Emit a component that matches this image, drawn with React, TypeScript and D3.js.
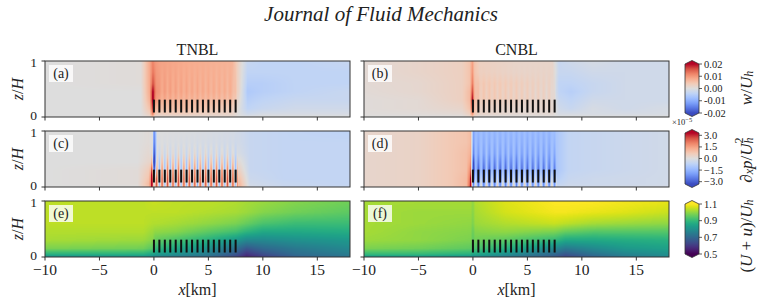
import { useMemo } from 'react';
import * as d3 from 'd3';

// x axis in km, z normalised by boundary-layer height
const xTicks = [-10, -5, 0, 5, 10, 15];
const turbineX = [0, 0.5, 1, 1.5, 2, 2.5, 3, 3.5, 4, 4.5, 5, 5.5, 6, 6.5, 7, 7.5];
const rotorZ = [0.08, 0.31];
const zNodes = [0, 0.05, 0.15, 0.3, 0.45, 0.6, 0.8, 1];

// w/U_h  (one column per x node, values bottom -> top at zNodes)
const wTnblX = [-10, -1.2, -0.4, -0.1, 0.1, 0.5, 3, 7.2, 7.8, 8.6, 10, 13, 18];
const wTnblV = [
  [0, 0, 0, 0, 0, 0, 0, 0],
  [0, 0, 0, 0, 0, 0.0005, 0.0005, 0.0005],
  [0.001, 0.003, 0.005, 0.007, 0.008, 0.008, 0.008, 0.008],
  [0.004, 0.012, 0.018, 0.022, 0.021, 0.016, 0.013, 0.012],
  [0.001, 0.004, 0.008, 0.012, 0.013, 0.012, 0.011, 0.01],
  [0.001, 0.003, 0.006, 0.008, 0.009, 0.009, 0.009, 0.009],
  [0.001, 0.003, 0.006, 0.007, 0.008, 0.008, 0.008, 0.008],
  [0.001, 0.002, 0.004, 0.006, 0.007, 0.007, 0.007, 0.007],
  [0, 0, 0, 0.001, 0.002, 0.002, 0.002, 0.002],
  [0, -0.002, -0.004, -0.005, -0.006, -0.005, -0.004, -0.003],
  [0, -0.001, -0.003, -0.004, -0.005, -0.005, -0.004, -0.004],
  [0, -0.001, -0.002, -0.003, -0.004, -0.004, -0.004, -0.004],
  [0, -0.001, -0.002, -0.003, -0.003, -0.004, -0.004, -0.003],
];
const wTnblDisk = [0, 0, 0.001, 0.001, 0.001, 0.0008, 0.0004, 0];
const wTnblGap = [0, 0, -0.001, -0.001, -0.001, -0.0008, -0.0004, 0];

const wCnblX = [-10, -5, -1, -0.3, -0.05, 0.15, 0.6, 4, 7.3, 7.9, 9, 11, 14, 18];
const wCnblV = [
  [0, 0.0003, 0.0005, 0.0005, 0.0008, 0.001, 0.001, 0.001],
  [0, 0.0005, 0.001, 0.001, 0.0015, 0.0015, 0.002, 0.002],
  [0, 0.001, 0.002, 0.003, 0.003, 0.003, 0.003, 0.003],
  [0.001, 0.003, 0.005, 0.006, 0.006, 0.005, 0.005, 0.005],
  [0.003, 0.01, 0.016, 0.02, 0.016, 0.012, 0.01, 0.009],
  [0.001, 0.004, 0.006, 0.007, 0.007, 0.006, 0.005, 0.005],
  [0, 0.002, 0.003, 0.004, 0.004, 0.004, 0.003, 0.003],
  [0, 0.001, 0.002, 0.003, 0.003, 0.003, 0.002, 0.002],
  [0, 0.001, 0.002, 0.002, 0.002, 0.002, 0.002, 0.002],
  [0, -0.001, -0.002, -0.003, -0.004, -0.004, -0.003, -0.003],
  [0, -0.001, -0.003, -0.004, -0.005, -0.004, -0.003, -0.002],
  [0, -0.001, -0.001, -0.002, -0.003, -0.003, -0.002, -0.001],
  [0, -0.001, -0.002, -0.002, -0.002, -0.002, -0.002, -0.002],
  [0, -0.001, -0.001, -0.002, -0.002, -0.002, -0.002, -0.002],
];
const wCnblDisk = [0, 0, 0.001, 0.001, 0.001, 0.0008, 0.0003, 0];
const wCnblGap = [0, 0, -0.001, -0.001, -0.001, -0.0005, 0, 0];

// d_x p / U_h^2, in units of 1e-5
const pTnblX = [-10, -1.5, -0.5, -0.12, 0, 0.12, 0.3, 4, 7.3, 7.9, 8.8, 12, 18];
const pTnblV = [
  [0, 0, 0, 0, 0, 0, 0, 0],
  [0, 0.1, 0.1, 0.1, 0, 0, 0, 0],
  [0.8, 1.0, 0.8, 0.6, 0.3, 0.2, 0.1, 0.1],
  [2.5, 2.8, 2.5, 1.5, 0.3, 0, 0, 0],
  [1.5, 1.5, 1.0, -2.0, -3.3, -3.0, -2.6, -2.4],
  [1.0, 1.0, 0.5, -1.5, -2.5, -2.2, -1.8, -1.6],
  [0.5, 0.5, 0.4, 0.2, 0.1, 0, 0, 0],
  [0.5, 0.5, 0.4, 0.2, 0.1, 0, -0.1, -0.1],
  [0.5, 0.5, 0.4, 0.2, 0, -0.1, -0.2, -0.2],
  [1.0, 1.0, 0.8, 0.4, 0.1, -0.2, -0.3, -0.3],
  [-0.2, -0.3, -0.4, -0.5, -0.5, -0.5, -0.5, -0.5],
  [-0.5, -0.5, -0.6, -0.6, -0.6, -0.6, -0.6, -0.6],
  [-0.5, -0.6, -0.6, -0.6, -0.6, -0.6, -0.6, -0.7],
];
const pTnblDisk = [-1.5, -2, -2, -1.8, -1.2, -0.5, -0.1, 0];
const pTnblGap = [1.8, 2.2, 2.2, 1.8, 1.0, 0.3, 0, 0];

const pCnblX = [-10, -5, -2, -0.6, -0.2, 0.05, 0.3, 4, 7.2, 7.8, 8.8, 11, 18];
const pCnblV = [
  [0.3, 0.3, 0.3, 0.3, 0.3, 0.3, 0.3, 0.3],
  [0.4, 0.4, 0.4, 0.4, 0.4, 0.4, 0.4, 0.4],
  [0.7, 0.7, 0.7, 0.7, 0.7, 0.7, 0.7, 0.7],
  [1.0, 1.0, 1.0, 0.9, 0.9, 0.9, 0.8, 0.8],
  [3.0, 2.8, 2.5, 2.0, 1.5, 1.2, 1.0, 1.0],
  [-1.0, -1.5, -2.5, -2.8, -2.5, -2.0, -1.8, -1.8],
  [-1.0, -1.2, -1.5, -1.6, -1.5, -1.4, -1.4, -1.4],
  [-0.8, -1.0, -1.3, -1.5, -1.5, -1.4, -1.4, -1.4],
  [-0.8, -1.0, -1.2, -1.4, -1.4, -1.4, -1.4, -1.4],
  [-0.4, -0.6, -0.8, -1.0, -1.0, -1.0, -1.0, -1.0],
  [-0.3, -0.4, -0.5, -0.6, -0.6, -0.6, -0.6, -0.6],
  [-0.3, -0.4, -0.4, -0.5, -0.5, -0.5, -0.5, -0.5],
  [-0.2, -0.3, -0.3, -0.3, -0.3, -0.3, -0.3, -0.3],
];
const pCnblDisk = [-1.5, -1.5, -1.5, -1.5, -1.0, -0.6, -0.3, -0.1];
const pCnblGap = [1.5, 1.5, 1.2, 0.6, 0.4, 0.3, 0.2, 0.1];

// (U + u)/U_h
const uTnblX = [-10, -1, -0.1, 0.1, 2, 5, 7.5, 8.5, 10, 13, 18];
const uTnblV = [
  [0.8, 0.88, 0.98, 1.02, 1.03, 1.04, 1.04, 1.04],
  [0.8, 0.88, 0.97, 1.01, 1.03, 1.04, 1.04, 1.04],
  [0.78, 0.85, 0.94, 0.99, 1.01, 1.03, 1.04, 1.05],
  [0.76, 0.83, 0.9, 0.96, 1.0, 1.03, 1.04, 1.05],
  [0.74, 0.8, 0.86, 0.93, 0.99, 1.02, 1.04, 1.04],
  [0.7, 0.75, 0.8, 0.88, 0.95, 1.0, 1.03, 1.04],
  [0.62, 0.66, 0.72, 0.82, 0.92, 0.98, 1.02, 1.03],
  [0.55, 0.59, 0.66, 0.78, 0.89, 0.96, 1.01, 1.02],
  [0.6, 0.64, 0.7, 0.78, 0.86, 0.93, 0.99, 1.01],
  [0.68, 0.71, 0.74, 0.8, 0.86, 0.91, 0.97, 0.99],
  [0.73, 0.75, 0.78, 0.82, 0.87, 0.91, 0.95, 0.97],
];

const uCnblX = [-10, -5, -0.2, 0, 0.2, 3, 7.5, 8.5, 11, 14, 18];
const uCnblV = [
  [0.82, 0.9, 0.98, 1.01, 1.02, 1.02, 1.02, 1.02],
  [0.82, 0.9, 0.97, 1.0, 1.0, 1.01, 1.01, 1.02],
  [0.8, 0.88, 0.95, 0.98, 0.99, 1.0, 1.01, 1.02],
  [0.78, 0.85, 0.92, 0.95, 0.96, 0.98, 0.99, 1.0],
  [0.78, 0.86, 0.93, 0.97, 0.99, 1.01, 1.02, 1.03],
  [0.74, 0.8, 0.88, 0.95, 1.0, 1.03, 1.06, 1.07],
  [0.66, 0.7, 0.78, 0.9, 0.98, 1.05, 1.09, 1.1],
  [0.62, 0.66, 0.74, 0.86, 0.96, 1.04, 1.09, 1.1],
  [0.68, 0.72, 0.78, 0.86, 0.94, 1.02, 1.08, 1.1],
  [0.74, 0.77, 0.82, 0.87, 0.94, 1.01, 1.07, 1.09],
  [0.78, 0.8, 0.84, 0.88, 0.94, 1.0, 1.05, 1.08],
];

const wTicks = [0.02, 0.01, 0, -0.01, -0.02];
const wTickLabels = ['0.02', '0.01', '0.00', '-0.01', '-0.02'];
const pTicks = [3, 1.5, 0, -1.5, -3];
const pTickLabels = ['3.0', '1.5', '0.0', '\u22121.5', '\u22123.0'];
const uTicks = [1.1, 0.9, 0.7, 0.5];
const uTickLabels = ['1.1', '0.9', '0.7', '0.5'];

const coolwarmStops = ['#3b4cc0', '#5977e3', '#7b9ff9', '#9ebeff', '#c0d4f5', '#dddddd', '#f2cbb7', '#f7ac8e', '#ee8468', '#d65244', '#b40426'];
const coolwarm = d3.piecewise(d3.interpolateRgb, coolwarmStops);

const FONT = '"Liberation Serif", "DejaVu Serif", serif';
const INK = '#333';

const colX = [45, 364];
const rowY = [61, 131, 201];
const PW = 305;
const PH = 56;

const x = d3.scaleLinear().domain([-10, 18]).range([0, PW]);
const z = d3.scaleLinear().domain([0, 1]).range([PH, 0]);

function interpGrid(xn, cols, xv, zv) {
  const i = Math.max(0, Math.min(xn.length - 2, d3.bisectRight(xn, xv) - 1));
  const j = Math.max(0, Math.min(zNodes.length - 2, d3.bisectRight(zNodes, zv) - 1));
  const tx = Math.max(0, Math.min(1, (xv - xn[i]) / (xn[i + 1] - xn[i])));
  const tz = Math.max(0, Math.min(1, (zv - zNodes[j]) / (zNodes[j + 1] - zNodes[j])));
  const a = cols[i][j] * (1 - tz) + cols[i][j + 1] * tz;
  const b = cols[i + 1][j] * (1 - tz) + cols[i + 1][j + 1] * tz;
  return a * (1 - tx) + b * tx;
}

// turbine-row stripes: disk profile at each turbine, gap profile halfway between
function stripeGrid(disk, gap) {
  const half = (turbineX[1] - turbineX[0]) / 2;
  const xs = [];
  const cols = [];
  turbineX.forEach(t => {
    xs.push(t - half, t);
    cols.push(gap, disk);
  });
  xs.push(turbineX[turbineX.length - 1] + half);
  cols.push(gap);
  return { xs, cols };
}

function renderField(field, color) {
  const canvas = document.createElement('canvas');
  canvas.width = PW;
  canvas.height = PH;
  const ctx = canvas.getContext('2d');
  const img = ctx.createImageData(PW, PH);
  const stripes = field.disk ? stripeGrid(field.disk, field.gap) : null;
  for (let py = 0; py < PH; py++) {
    const zv = z.invert(py + 0.5);
    for (let px = 0; px < PW; px++) {
      const xv = x.invert(px + 0.5);
      let v = interpGrid(field.x, field.v, xv, zv);
      if (stripes && xv >= stripes.xs[0] && xv <= stripes.xs[stripes.xs.length - 1]) {
        v += interpGrid(stripes.xs, stripes.cols, xv, zv);
      }
      const c = d3.rgb(color(v));
      const k = (py * PW + px) * 4;
      img.data[k] = c.r;
      img.data[k + 1] = c.g;
      img.data[k + 2] = c.b;
      img.data[k + 3] = 255;
    }
  }
  ctx.putImageData(img, 0, 0);
  return canvas.toDataURL();
}

const wColor = d3.scaleSequential(coolwarm).domain([-0.02, 0.02]).clamp(true);
const pColor = d3.scaleSequential(coolwarm).domain([-3.3, 3.3]).clamp(true);
const uColor = d3.scaleSequential(d3.interpolateViridis).domain([0.5, 1.1]).clamp(true);

const panels = [
  { key: 'a', col: 0, row: 0, field: { x: wTnblX, v: wTnblV, disk: wTnblDisk, gap: wTnblGap }, color: wColor },
  { key: 'b', col: 1, row: 0, field: { x: wCnblX, v: wCnblV, disk: wCnblDisk, gap: wCnblGap }, color: wColor },
  { key: 'c', col: 0, row: 1, field: { x: pTnblX, v: pTnblV, disk: pTnblDisk, gap: pTnblGap }, color: pColor },
  { key: 'd', col: 1, row: 1, field: { x: pCnblX, v: pCnblV, disk: pCnblDisk, gap: pCnblGap }, color: pColor },
  { key: 'e', col: 0, row: 2, field: { x: uTnblX, v: uTnblV }, color: uColor },
  { key: 'f', col: 1, row: 2, field: { x: uCnblX, v: uCnblV }, color: uColor },
];

function Panel({ p, url }) {
  const left = colX[p.col];
  const top = rowY[p.row];
  const bottomRow = p.row === 2;
  return (
    <g transform={`translate(${left},${top})`}>
      <image href={url} x={0} y={0} width={PW} height={PH} preserveAspectRatio="none" />
      {turbineX.map(t => (
        <rect key={t} x={x(t) - 1} y={z(rotorZ[1])} width={2} height={z(rotorZ[0]) - z(rotorZ[1])} fill="#111" />
      ))}
      <rect x={4} y={4} width={24} height={17} fill="#fff" fillOpacity={0.8} />
      <text x={16} y={17} textAnchor="middle" fontFamily={FONT} fontSize={14} fill="#222">({p.key})</text>
      <rect x={0} y={0} width={PW} height={PH} fill="none" stroke={INK} strokeWidth={1} />
      {xTicks.map(t => (
        <line key={t} x1={x(t)} x2={x(t)} y1={PH} y2={PH + 3.5} stroke={INK} />
      ))}
      {[0, 1].map(t => (
        <line key={t} x1={0} x2={-3.5} y1={z(t)} y2={z(t)} stroke={INK} />
      ))}
      {p.col === 0 && [0, 1].map(t => (
        <text key={t} x={-8} y={z(t) + (t === 0 ? 3 : 6)} textAnchor="end" fontFamily={FONT} fontSize={13.5} fill="#222">{t}</text>
      ))}
      {p.col === 0 && (
        <text transform={`translate(-22,${PH / 2}) rotate(-90)`} textAnchor="middle" fontFamily={FONT} fontSize={16} fill="#222">
          <tspan fontStyle="italic">z</tspan>/<tspan fontStyle="italic">H</tspan>
        </text>
      )}
      {bottomRow && xTicks.map(t => (
        <text key={t} x={x(t)} y={PH + 18} textAnchor="middle" fontFamily={FONT} fontSize={15.5} fill="#222">
          {t < 0 ? `\u2212${-t}` : t}
        </text>
      ))}
      {bottomRow && (
        <text x={PW / 2} y={PH + 38} textAnchor="middle" fontFamily={FONT} fontSize={16} fill="#222">
          <tspan fontStyle="italic">x</tspan>[km]
        </text>
      )}
    </g>
  );
}

function Colorbar({ id, top, bottom, domain, interp, ticks, labels, children }) {
  const cx = 685;
  const cw = 14;
  const tip = 3.5;
  const s = d3.scaleLinear().domain(domain).range([bottom, top]);
  const stops = d3.range(0, 1.0001, 0.05);
  const outline = `M${cx},${top} L${cx + cw / 2},${top - tip} L${cx + cw},${top} L${cx + cw},${bottom} L${cx + cw / 2},${bottom + tip} L${cx},${bottom} Z`;
  return (
    <g>
      <defs>
        <linearGradient id={id} x1="0" y1="1" x2="0" y2="0">
          {stops.map(t => <stop key={t} offset={t} stopColor={interp(t)} />)}
        </linearGradient>
      </defs>
      <path d={`M${cx},${top} L${cx + cw / 2},${top - tip} L${cx + cw},${top} Z`} fill={interp(1)} />
      <path d={`M${cx},${bottom} L${cx + cw / 2},${bottom + tip} L${cx + cw},${bottom} Z`} fill={interp(0)} />
      <rect x={cx} y={top} width={cw} height={bottom - top} fill={`url(#${id})`} />
      <path d={outline} fill="none" stroke={INK} strokeWidth={0.8} />
      {ticks.map((t, i) => (
        <g key={t}>
          <line x1={cx + cw} x2={cx + cw + 3} y1={s(t)} y2={s(t)} stroke={INK} strokeWidth={0.8} />
          <text x={cx + cw + 5} y={s(t) + 3.5} fontFamily={FONT} fontSize={10.5} fill="#222">{labels[i]}</text>
        </g>
      ))}
      {children}
    </g>
  );
}

export default function App() {
  const urls = useMemo(() => panels.map(p => renderField(p.field, p.color)), []);
  return (
    <svg width={761} height={307} style={{ display: 'block', position: 'absolute', left: 0, top: 0, background: '#fff' }}>
      <text x={381} y={21} textAnchor="middle" fontFamily={FONT} fontStyle="italic" fontSize={21} fill="#222">
        Journal of Fluid Mechanics
      </text>
      <text x={colX[0] + PW / 2} y={55} textAnchor="middle" fontFamily={FONT} fontSize={16} fill="#222">TNBL</text>
      <text x={colX[1] + PW / 2} y={55} textAnchor="middle" fontFamily={FONT} fontSize={16} fill="#222">CNBL</text>
      {panels.map((p, i) => <Panel key={p.key} p={p} url={urls[i]} />)}

      <Colorbar id="cb-w" top={64} bottom={113} domain={[-0.02, 0.02]} interp={coolwarm} ticks={wTicks} labels={wTickLabels}>
        <text transform="translate(746,88) rotate(-90)" textAnchor="middle" dominantBaseline="central" fontFamily={FONT} fontSize={17} fill="#222">
          <tspan fontStyle="italic">w</tspan>/<tspan fontStyle="italic">U</tspan>
          <tspan fontSize={12} fontStyle="italic" dy={3}>h</tspan>
        </text>
      </Colorbar>

      <Colorbar id="cb-p" top={133} bottom={184} domain={[-3.3, 3.3]} interp={coolwarm} ticks={pTicks} labels={pTickLabels}>
        <text x={672} y={125} fontFamily={FONT} fontSize={8.5} fill="#222">
          {'\u00d710'}<tspan fontSize={6.5} dy={-3}>{'\u22125'}</tspan>
        </text>
        <text transform="translate(746,160) rotate(-90)" textAnchor="middle" dominantBaseline="central" fontFamily={FONT} fontSize={17} fill="#222">
          <tspan fontStyle="italic">{'\u2202'}</tspan>
          <tspan fontSize={12} fontStyle="italic" dy={3}>x</tspan>
          <tspan fontStyle="italic" dy={-3}>p</tspan>/<tspan fontStyle="italic">U</tspan>
          <tspan fontSize={12} fontStyle="italic" dy={3}>h</tspan>
          <tspan fontSize={12} dx={-6} dy={-10}>2</tspan>
        </text>
      </Colorbar>

      <Colorbar id="cb-u" top={204} bottom={254} domain={[0.5, 1.1]} interp={d3.interpolateViridis} ticks={uTicks} labels={uTickLabels}>
        <text transform="translate(746,236) rotate(-90)" textAnchor="middle" dominantBaseline="central" fontFamily={FONT} fontSize={17} fill="#222">
          (<tspan fontStyle="italic">U</tspan> + <tspan fontStyle="italic">u</tspan>)/<tspan fontStyle="italic">U</tspan>
          <tspan fontSize={12} fontStyle="italic" dy={3}>h</tspan>
        </text>
      </Colorbar>
    </svg>
  );
}
